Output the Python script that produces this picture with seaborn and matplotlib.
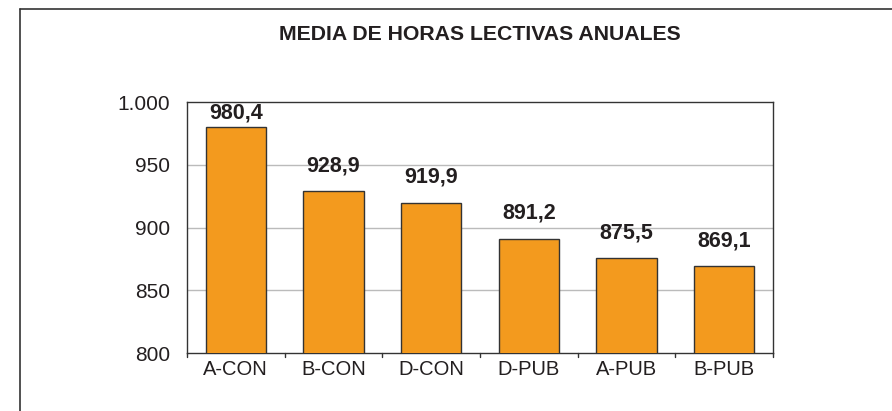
import matplotlib
matplotlib.use("Agg")
import matplotlib.pyplot as plt
import seaborn as sns
import pandas as pd
from matplotlib.lines import Line2D

categories = ["A-CON", "B-CON", "D-CON", "D-PUB", "A-PUB", "B-PUB"]
horas = [980.4, 928.9, 919.9, 891.2, 875.5, 869.1]
y_ticks = [800, 850, 900, 950, 1000]
y_tick_labels = ["800", "850", "900", "950", "1.000"]
title = "MEDIA DE HORAS LECTIVAS ANUALES"

df = pd.DataFrame({"grupo": categories, "horas": horas})

sns.set_theme(style="white")
plt.rcParams["font.family"] = ["Liberation Sans", "DejaVu Sans"]

fig = plt.figure(figsize=(8.92, 4.11), dpi=100)
ax = fig.add_axes([0.2096, 0.1411, 0.657, 0.6107])

sns.barplot(data=df, x="grupo", y="horas", color="#F39A1E", width=0.62,
            edgecolor="#333333", linewidth=1.0, saturation=1, ax=ax, zorder=3)

ax.set_ylim(800, 1000)
ax.set_xlim(-0.5, len(categories) - 0.5)
ax.set_yticks(y_ticks)
ax.set_yticklabels(y_tick_labels, fontsize=15, color="#231F20")
ax.tick_params(axis="y", length=0, pad=12)
ax.set_xticks(range(len(categories)))
ax.set_xticklabels(categories, fontsize=14.5, color="#231F20")
ax.tick_params(axis="x", length=0, pad=5)
# small ticks between categories
for b in [i - 0.5 for i in range(len(categories) + 1)]:
    ax.plot([b, b], [800, 797], color="#333333", lw=1, clip_on=False, zorder=4)
ax.set_xlabel("")
ax.set_ylabel("")

for y in [850, 900, 950]:
    ax.axhline(y, color="#BBBBBB", lw=1, zorder=1)

for s in ax.spines.values():
    s.set_color("#333333")
    s.set_linewidth(1.0)
    s.set_visible(True)

for i, v in enumerate(horas):
    ax.text(i, min(v + 12, 983), f"{v:.1f}".replace(".", ","), ha="center",
            va="bottom", fontsize=15.5, fontweight="bold", color="#231F20")

fig.text(0.538, 0.915, title, ha="center", va="center", fontsize=15.3,
         fontweight="bold", color="#231F20")

# outer frame (left and top edges)
fig.add_artist(Line2D([0.0224, 0.0224], [0.0, 0.978], transform=fig.transFigure,
                      color="#333333", lw=1.2))
fig.add_artist(Line2D([0.0224, 1.0], [0.978, 0.978], transform=fig.transFigure,
                      color="#333333", lw=1.2))

fig.savefig("out.png", dpi=100)
